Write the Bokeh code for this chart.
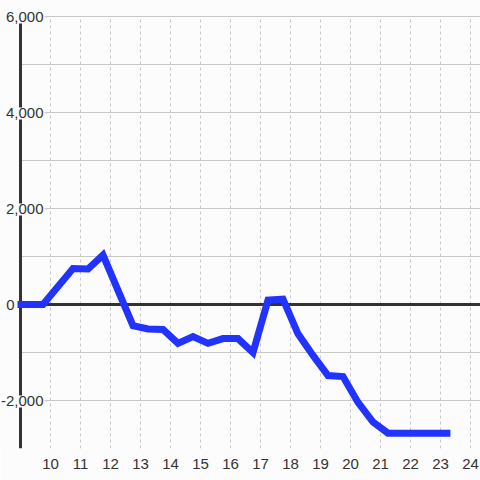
from bokeh.plotting import figure
from bokeh.models import Range1d, FixedTicker, Label
from bokeh.embed import file_html
from bokeh.resources import INLINE

# ---- data ----
hours = [8.9, 9.75, 10.75, 11.25, 11.75, 12.75, 13.25, 13.75, 14.25, 14.75,
         15.25, 15.75, 16.25, 16.75, 17.25, 17.75, 18.25, 18.75, 19.25, 19.75,
         20.25, 20.75, 21.25, 23.33]
values = [0, 0, 750, 740, 1030, -440, -510, -520, -810, -670,
          -810, -710, -710, -1000, 90, 110, -610, -1060, -1480, -1500,
          -2040, -2450, -2680, -2680]

x_ticks = list(range(10, 25))
y_grid_ticks = [-2000, -1000, 1000, 2000, 3000, 4000, 5000, 6000]
y_label_values = [6000, 4000, 2000, 0, -2000]
y_label_texts = ["6,000", "4,000", "2,000", "0", "-2,000"]

X_MIN, X_MAX = 8.3333, 24.3333
Y_MIN, Y_MAX = -3000, 6333.33
AXIS_X = 9.0
Y_TOP = 6000

BG = "#fbfcfb"
TXT = "#333333"
GRID = "#c8c8c8"
FONT = "Liberation Sans"

p = figure(width=480, height=480, output_backend="svg", toolbar_location=None,
           x_range=Range1d(X_MIN, X_MAX), y_range=Range1d(Y_MIN, Y_MAX),
           y_axis_location=None, x_axis_location="below",
           min_border_left=0, min_border_right=0, min_border_top=0,
           min_border_bottom=32)
p.background_fill_color = BG
p.border_fill_color = BG
p.outline_line_color = None
p.xgrid.visible = False
p.ygrid.visible = False

# x axis
p.xaxis.ticker = FixedTicker(ticks=x_ticks)
p.xaxis.axis_line_color = None
p.xaxis.major_tick_line_color = None
p.xaxis.minor_tick_line_color = None
p.xaxis.major_label_standoff = 4
p.xaxis.major_label_text_font = FONT
p.xaxis.major_label_text_font_size = "15px"
p.xaxis.major_label_text_color = TXT

# grid lines (only right of the y axis, only up to the top tick)
p.segment(x0=x_ticks, y0=[Y_MIN] * len(x_ticks), x1=x_ticks, y1=[Y_TOP] * len(x_ticks),
          line_color=GRID, line_width=1, line_dash="3 3")
p.segment(x0=[AXIS_X] * len(y_grid_ticks), y0=y_grid_ticks,
          x1=[X_MAX] * len(y_grid_ticks), y1=y_grid_ticks,
          line_color=GRID, line_width=1)

# zero line and y axis line
p.segment(x0=[AXIS_X], y0=[0], x1=[X_MAX], y1=[0], line_width=3, line_color=TXT)
p.segment(x0=[AXIS_X], y0=[Y_MIN], x1=[AXIS_X], y1=[Y_TOP], line_width=3, line_color=TXT)

# data line
p.line(hours, values, line_width=7, line_color="#2233ff", line_join="miter")

# y labels (drawn over the axis with a background box)
for v, t in zip(y_label_values, y_label_texts):
    off = -5 if v == 0 else 24
    p.add_layout(Label(x=AXIS_X, y=v, text=t, x_offset=off, y_offset=-1,
                       text_align="right", text_baseline="middle",
                       text_font=FONT, text_font_size="15px", text_color=TXT,
                       background_fill_color=BG, padding=1))

open("out.html", "w").write(file_html(p, INLINE))
